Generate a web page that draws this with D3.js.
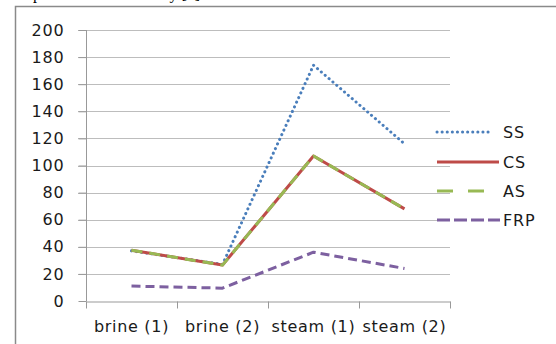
<!DOCTYPE html>
<html><head><meta charset="utf-8">
<script src="https://cdn.jsdelivr.net/npm/d3@7"></script>
<style>body{margin:0;background:#fff}svg{display:block}</style>
</head><body>
<svg id="c" width="556" height="344"></svg>
<script>
const categories = ["brine (1)", "brine (2)", "steam (1)", "steam (2)"];
const seriesNames = ["SS", "CS", "AS", "FRP"];
const ssValues = [37, 27, 174, 116];
const csValues = [37.5, 26.5, 107, 68];
const asValues = [37.5, 26.5, 107, 68];
const frpValues = [11, 9.5, 36, 24];
const yTicks = [0, 20, 40, 60, 80, 100, 120, 140, 160, 180, 200];

const svg = d3.select("#c");
const font = "DejaVu Sans, sans-serif";

// clipped caption from the page above
svg.append("text").attr("x", 33).attr("y", -1)
  .attr("font-family", "Liberation Serif, serif").attr("font-size", 16)
  .text("performance summary [5]");

// outer frame (left and top)
svg.append("path").attr("d", "M15.5,344 L15.5,6.5 L556,6.5")
  .attr("fill", "none").attr("stroke", "#8a8a8a").attr("stroke-width", 1.5);

const x = d3.scaleBand().domain(categories).range([86, 450]);
const y = d3.scaleLinear().domain([0, 200]).range([301, 30]);

// grid
svg.append("g").selectAll("line").data(yTicks.filter(d => d > 0)).join("line")
  .attr("x1", 78).attr("x2", 450)
  .attr("y1", d => Math.round(y(d)) + 0.5).attr("y2", d => Math.round(y(d)) + 0.5)
  .attr("stroke", "#bdbdbd").attr("stroke-width", 1.2);

// y axis
const ya = svg.append("g").attr("transform", "translate(86.5,0)")
  .call(d3.axisLeft(y).tickValues(yTicks).tickSize(8).tickPadding(14));
ya.select(".domain").attr("stroke", "#999").attr("d", "M0,30V301");
ya.selectAll(".tick line").attr("stroke", "#999");
ya.selectAll("text").attr("font-family", font).attr("font-size", 16)
  .attr("letter-spacing", 0.8).attr("fill", "#1a1a1a");

// x axis
const xa = svg.append("g").attr("transform", "translate(0,301.5)")
  .call(d3.axisBottom(x).tickSize(0).tickPadding(19));
xa.select(".domain").attr("stroke", "#999");
xa.selectAll("text").attr("font-family", font).attr("font-size", 16)
  .attr("letter-spacing", 0.7).attr("fill", "#1a1a1a");
const bounds = [86, ...categories.map(c => x(c) + x.bandwidth())];
xa.selectAll(".bt").data(bounds).join("line").attr("class", "bt")
  .attr("x1", d => d + 0.5).attr("x2", d => d + 0.5).attr("y1", 0).attr("y2", 7)
  .attr("stroke", "#999");

const styles = {
  SS: {color: "#4a7ebb", dash: "0.1 5", cap: "round", w: 3, leg: "0.1 5"},
  CS: {color: "#be4b48", dash: null, cap: "butt", w: 3, leg: null},
  AS: {color: "#98b954", dash: "11 7", cap: "butt", w: 3, leg: "16 15"},
  FRP: {color: "#7d60a0", dash: "9 5", cap: "butt", w: 3, leg: "13 4"}
};
const data = {SS: ssValues, CS: csValues, AS: asValues, FRP: frpValues};
const line = d3.line().x((d, i) => x(categories[i]) + x.bandwidth() / 2).y(d => y(d));

seriesNames.forEach(n => {
  const s = styles[n];
  svg.append("path").datum(data[n]).attr("d", line)
    .attr("fill", "none").attr("stroke", s.color).attr("stroke-width", s.w)
    .attr("stroke-dasharray", s.dash).attr("stroke-linecap", s.cap)
    .attr("stroke-linejoin", "round");
});

// legend
const legY = [132, 162, 191, 220];
const legEnd = [493, 499, 486, 500];
seriesNames.forEach((n, i) => {
  const s = styles[n];
  svg.append("line").attr("x1", 437).attr("x2", legEnd[i])
    .attr("y1", legY[i]).attr("y2", legY[i])
    .attr("stroke", s.color).attr("stroke-width", s.w)
    .attr("stroke-dasharray", s.leg).attr("stroke-linecap", s.cap);
  svg.append("text").attr("x", 503).attr("y", legY[i] + 6)
    .attr("font-family", font).attr("font-size", 16).attr("letter-spacing", 0.8)
    .attr("fill", "#1a1a1a").text(n);
});
</script>
</body></html>
